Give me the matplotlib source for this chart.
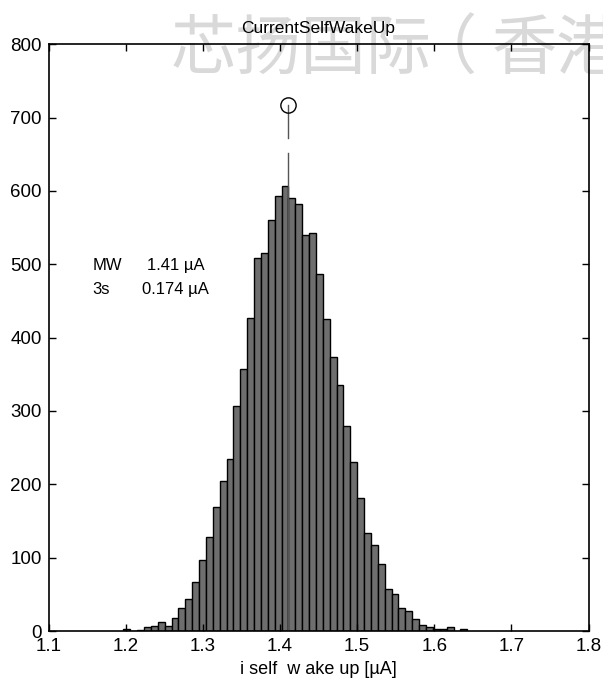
import numpy as np
import matplotlib
matplotlib.use("Agg")
import matplotlib.pyplot as plt

# histogram counts, 50 bins
counts = [3, 0, 2, 5, 7, 12, 7, 18, 32, 44,
          67, 97, 128, 169, 205, 235, 307, 357, 427, 508,
          515, 561, 593, 607, 591, 582, 540, 543, 487, 425,
          374, 335, 280, 230, 182, 133, 117, 92, 57, 50,
          31, 27, 17, 8, 6, 3, 3, 6, 0, 3]
bin_lo = 1.197
bin_hi = 1.6428

mean_val = 1.41
mean_pos = 1.4108
stem_top = 717
stem_gap = (652, 672)

xticks = [1.1, 1.2, 1.3, 1.4, 1.5, 1.6, 1.7, 1.8]
yticks = [0, 100, 200, 300, 400, 500, 600, 700, 800]

plt.rcParams['font.family'] = ['Liberation Sans', 'DejaVu Sans']

edges = np.linspace(bin_lo, bin_hi, len(counts) + 1)

fig = plt.figure(figsize=(6.03, 6.80), dpi=100)
ax = fig.add_axes([0.0805, 0.072, 0.8955, 0.863])
ax.patch.set_visible(False)

# watermark behind everything (pieces placed so the bracket sits tight)
wm = dict(fontsize=47, color='#d9d9d9', va='center', ha='left', zorder=-1,
          family=['Noto Sans CJK SC', 'DejaVu Sans'])
fig.text(0.283, 0.926, '芯扬国际', **wm)
fig.text(0.683, 0.926, '（', **wm)
fig.text(0.815, 0.926, '香港', **wm)

ax.bar(edges[:-1], counts, width=np.diff(edges), align='edge',
       color='#6e6e6e', edgecolor='black', linewidth=1.0)

# mean stem
ax.plot([mean_pos, mean_pos], [0, stem_gap[0]], color='#555555', lw=1.0)
ax.plot([mean_pos, mean_pos], [stem_gap[1], stem_top], color='#555555', lw=1.0)
ax.plot([mean_pos], [stem_top], 'o', mfc='none', mec='black', ms=11, mew=1.0)

ax.set_xlim(1.1, 1.8)
ax.set_ylim(0, 800)
ax.set_xticks(xticks)
ax.set_yticks(yticks)
ax.set_xticklabels([str(t) for t in xticks])
ax.tick_params(direction='in', length=5, width=1, top=True, right=True,
               labelsize=13.5, pad=5)
for s in ax.spines.values():
    s.set_linewidth(1.2)

ax.set_title('CurrentSelfWakeUp', fontsize=12.5, pad=8)
ax.set_xlabel('i self  w ake up [µA]', fontsize=13, labelpad=4)

fig.text(0.153, 0.609, 'MW', fontsize=12, va='center')
fig.text(0.244, 0.609, '1.41 µA', fontsize=12, va='center')
fig.text(0.153, 0.575, '3s', fontsize=12, va='center')
fig.text(0.236, 0.575, '0.174 µA', fontsize=12, va='center')

fig.savefig('out.png', dpi=100)
